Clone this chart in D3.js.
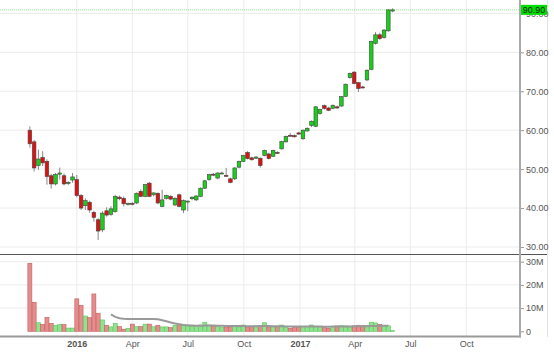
<!DOCTYPE html>
<html>
<head>
<meta charset="utf-8">
<script src="https://cdn.jsdelivr.net/npm/d3@7"></script>
<style>
  body { margin: 0; background: #fff; }
  svg { display: block; font-family: "Liberation Sans", Arial, sans-serif; }
</style>
</head>
<body>
<div class="chart"></div>
<script>
// weekly candles
const opens = [60.0,57.0,50.9,53.0,52.0,48.3,46.2,48.7,48.3,46.3,47.2,47.3,43.2,40.6,41.5,38.9,37.0,34.4,39.3,38.4,
  39.1,42.8,42.5,41.0,41.2,41.3,44.3,43.0,46.4,43.4,43.8,40.4,42.5,43.0,40.8,43.4,39.5,41.7,42.4,42.1,
  43.0,45.1,47.3,48.7,47.7,48.9,48.4,47.5,47.5,50.5,52.0,54.3,52.9,52.8,52.8,53.5,53.9,53.3,54.3,55.2,
  57.0,58.7,58.6,59.3,57.8,59.8,61.2,61.0,64.3,66.3,65.7,65.6,66.0,66.2,68.7,73.5,74.9,72.2,71.1,72.9,
  75.6,82.3,84.5,83.8,85.5,90.6];
const highs = [61.0,57.5,55.0,54.6,52.5,48.8,49.0,50.4,48.9,46.9,49.0,48.5,43.6,42.5,41.9,39.3,37.4,39.2,40.2,40.5,
  43.4,43.2,43.0,41.4,41.6,44.0,44.8,46.2,46.7,44.0,44.0,44.7,43.4,43.3,42.8,43.7,42.2,41.9,43.0,43.3,
  45.3,47.2,48.8,49.0,49.2,49.4,50.3,47.8,50.5,52.2,53.7,54.6,53.2,53.4,53.0,55.0,54.2,55.0,54.6,57.3,
  58.6,59.3,58.9,59.6,60.2,60.7,62.5,66.2,65.5,66.6,66.0,66.6,66.3,68.8,72.0,74.8,75.2,72.4,71.4,75.6,
  83.0,85.2,85.0,86.0,91.0,91.3];
const lows = [55.5,49.4,49.8,50.8,46.0,45.0,45.8,47.3,45.8,45.9,46.5,42.8,39.5,39.5,38.8,36.5,31.8,33.8,37.8,38.0,
  38.8,42.0,40.4,40.6,40.7,41.0,42.8,42.8,42.8,43.0,41.0,40.2,42.2,42.0,40.5,40.2,38.7,39.2,42.0,41.8,
  42.8,44.9,47.0,48.2,47.4,48.7,48.0,46.4,47.2,50.2,51.8,52.5,52.2,52.6,50.4,53.3,52.5,53.1,53.9,55.0,
  56.8,58.3,58.1,58.8,57.5,59.6,60.8,60.8,64.0,65.3,64.9,65.4,65.5,66.0,68.5,73.2,71.8,69.8,70.7,72.6,
  75.4,82.0,83.2,83.5,85.3,90.3];
const closes = [56.5,50.3,52.6,51.6,48.1,46.2,48.6,49.0,46.2,46.6,48.0,43.2,40.0,41.9,39.5,37.6,34.1,38.7,38.2,39.8,
  43.0,42.4,41.1,41.2,41.0,43.8,43.0,46.0,43.0,43.9,41.3,42.1,43.2,42.3,42.5,40.4,41.9,41.8,42.8,43.1,
  45.1,47.0,48.6,48.5,49.0,49.0,48.2,46.6,50.3,52.0,53.5,52.7,52.4,53.1,50.9,54.8,52.7,54.8,54.1,57.1,
  58.4,58.5,58.3,59.0,60.0,60.5,62.3,66.0,65.3,65.6,65.1,66.4,65.7,68.6,71.8,74.6,72.0,70.7,70.9,75.4,
  82.8,84.5,83.5,85.7,90.9,90.9];
// volume in millions
const volumes = [29.3,12.5,3.7,3.0,6.0,3.4,2.6,2.9,2.9,1.4,1.4,14.0,11.2,6.6,5.9,16.1,7.8,4.9,2.6,1.9,
  3.4,2.0,0.9,1.3,3.1,2.0,2.0,3.1,3.1,2.0,2.6,1.9,1.9,1.6,2.6,3.1,3.0,2.0,2.0,2.4,
  2.7,3.9,2.7,2.1,2.1,1.6,1.6,1.6,2.1,1.9,2.7,1.6,2.0,2.3,2.3,3.7,1.9,1.9,2.1,2.7,
  2.1,1.3,1.6,1.6,2.0,2.0,2.7,2.0,2.0,1.6,1.3,2.1,2.3,2.4,2.3,2.1,2.3,2.6,2.4,2.4,
  3.9,3.6,3.0,2.4,2.4,0.3];
// average volume line, from week 20 on
const avgStart = 19;
const volumeAvg = [7.3,6.2,5.6,5.4,5.3,5.3,5.3,5.3,5.3,5.3,5.3,5.2,4.8,4.3,3.8,3.4,3.0,2.7,2.6,2.5,
  2.4,2.4,2.5,2.5,2.5,2.4,2.4,2.3,2.3,2.3,2.3,2.3,2.2,2.2,2.2,2.3,2.3,2.3,2.2,2.2,
  2.2,2.1,2.1,2.1,2.1,2.1,2.1,2.1,2.1,2.1,2.0,2.0,2.1,2.1,2.1,2.1,2.1,2.2,2.2,2.2,
  2.2,2.3,2.3,2.4,2.4,2.4];
const lastPrice = 90.90;

const priceTicks = [30, 40, 50, 60, 70, 80, 90];
const volumeTicks = [0, 10, 20, 30];
const volumeTickLabels = ['0', '10M', '20M', '30M'];
const timeTicks = [new Date(2016,0,1), new Date(2016,3,1), new Date(2016,6,1), new Date(2016,9,1),
  new Date(2017,0,1), new Date(2017,3,1), new Date(2017,6,1), new Date(2017,9,1)];
const timeTickLabels = ['2016', 'Apr', 'Jul', 'Oct', '2017', 'Apr', 'Jul', 'Oct'];

const weeks = d3.timeFriday.range(new Date(2015, 9, 16), new Date(2017, 5, 3));
const data = weeks.map((d, i) => ({
  date: d, o: opens[i], h: highs[i], l: lows[i], c: closes[i], v: volumes[i]
}));

const W = 554, H = 352, plotR = 520;
const x = d3.scaleTime().domain([new Date(2015,7,28), new Date(2017,11,28)]).range([0, plotR]);
const y = d3.scaleLinear().domain([30, 80]).range([247, 52.3]);
const yv = d3.scaleLinear().domain([0, 30]).range([331.3, 261.7]);

const svg = d3.select('.chart')
              .append('svg')
              .attr('width', W)
              .attr('height', H);

// grid
svg.append('g')
  .selectAll('line')
  .data(timeTicks)
  .join('line')
    .attr('x1', d => x(d)).attr('x2', d => x(d))
    .attr('y1', 0).attr('y2', 336)
    .attr('stroke', '#ececec');
svg.append('g')
  .selectAll('line')
  .data(priceTicks)
  .join('line')
    .attr('x1', 0).attr('x2', plotR)
    .attr('y1', d => y(d)).attr('y2', d => y(d))
    .attr('stroke', '#ececec');
svg.append('g')
  .selectAll('line')
  .data(volumeTicks.slice(1))
  .join('line')
    .attr('x1', 0).attr('x2', plotR)
    .attr('y1', d => yv(d)).attr('y2', d => yv(d))
    .attr('stroke', '#ececec');

// last price line
svg.append('line')
  .attr('x1', 0).attr('x2', plotR)
  .attr('y1', y(lastPrice)).attr('y2', y(lastPrice))
  .attr('stroke', '#8ef08e')
  .attr('stroke-dasharray', '1,1');

// volume bars
svg.append('g')
  .selectAll('rect')
  .data(data)
  .join('rect')
    .attr('x', d => x(d.date) - 2)
    .attr('width', 4)
    .attr('y', d => yv(d.v))
    .attr('height', d => yv(0) - yv(d.v))
    .attr('fill', d => d.c >= d.o ? '#8fe38f' : '#e38d8d')
    .attr('stroke', d => d.c >= d.o ? '#5cc45c' : '#c95a5a')
    .attr('stroke-width', 0.6);

// average volume
svg.append('path')
  .datum(volumeAvg)
  .attr('fill', 'none')
  .attr('stroke', '#999')
  .attr('stroke-width', 2)
  .attr('d', d3.line()
    .x((d, i) => x(weeks[i + avgStart]))
    .y(d => yv(d)));

// candles
const candle = svg.append('g')
  .selectAll('g')
  .data(data)
  .join('g');
candle.append('line')
  .attr('x1', d => x(d.date)).attr('x2', d => x(d.date))
  .attr('y1', d => y(d.h)).attr('y2', d => y(d.l))
  .attr('stroke', '#888');
candle.append('rect')
  .attr('x', d => x(d.date) - 1.8)
  .attr('width', 3.6)
  .attr('y', d => y(Math.max(d.o, d.c)))
  .attr('height', d => Math.max(1, Math.abs(y(d.o) - y(d.c))))
  .attr('fill', d => d.c >= d.o ? '#16d216' : '#dd1111')
  .attr('stroke', '#444')
  .attr('stroke-width', 0.6);

// frame lines
svg.append('line')
  .attr('x1', 0).attr('x2', 547).attr('y1', 254.5).attr('y2', 254.5)
  .attr('stroke', '#555');
svg.append('line')
  .attr('x1', 0).attr('x2', plotR + 1).attr('y1', 336.5).attr('y2', 336.5)
  .attr('stroke', '#999').attr('stroke-width', 2);
svg.append('line')
  .attr('x1', plotR).attr('x2', plotR).attr('y1', 0).attr('y2', 337.5)
  .attr('stroke', '#aaa').attr('stroke-width', 2);
svg.append('line')
  .attr('x1', 547.5).attr('x2', 547.5).attr('y1', 0).attr('y2', 337)
  .attr('stroke', '#e2e2e2');

// axes
const priceAxis = svg.append('g')
  .attr('transform', `translate(${plotR + 1},0)`)
  .call(d3.axisRight(y).tickValues(priceTicks).tickFormat(d3.format('.2f')).tickSize(3).tickPadding(2));
const volAxis = svg.append('g')
  .attr('transform', `translate(${plotR + 1},0)`)
  .call(d3.axisRight(yv).tickValues(volumeTicks).tickFormat((d, i) => volumeTickLabels[i]).tickSize(3).tickPadding(2));
const timeAxis = svg.append('g')
  .attr('transform', 'translate(0,337)')
  .call(d3.axisBottom(x).tickValues(timeTicks).tickFormat((d, i) => timeTickLabels[i]).tickSize(0).tickPadding(4));

[priceAxis, volAxis, timeAxis].forEach(a => {
  a.select('.domain').remove();
  a.selectAll('line').attr('stroke', '#999');
  a.selectAll('text').attr('fill', '#555').style('font-size', '9px');
});
timeAxis.selectAll('text')
  .style('font-weight', (d, i) => timeTickLabels[i].length === 4 ? 'bold' : 'normal');

// last price label
svg.append('rect')
  .attr('x', plotR + 1).attr('y', y(lastPrice) - 5)
  .attr('width', 26).attr('height', 10)
  .attr('fill', '#00dd00');
svg.append('text')
  .attr('x', plotR + 14).attr('y', y(lastPrice) + 3.3)
  .attr('text-anchor', 'middle')
  .attr('fill', '#222')
  .style('font-size', '9px')
  .text(d3.format('.2f')(lastPrice));
</script>
</body>
</html>
